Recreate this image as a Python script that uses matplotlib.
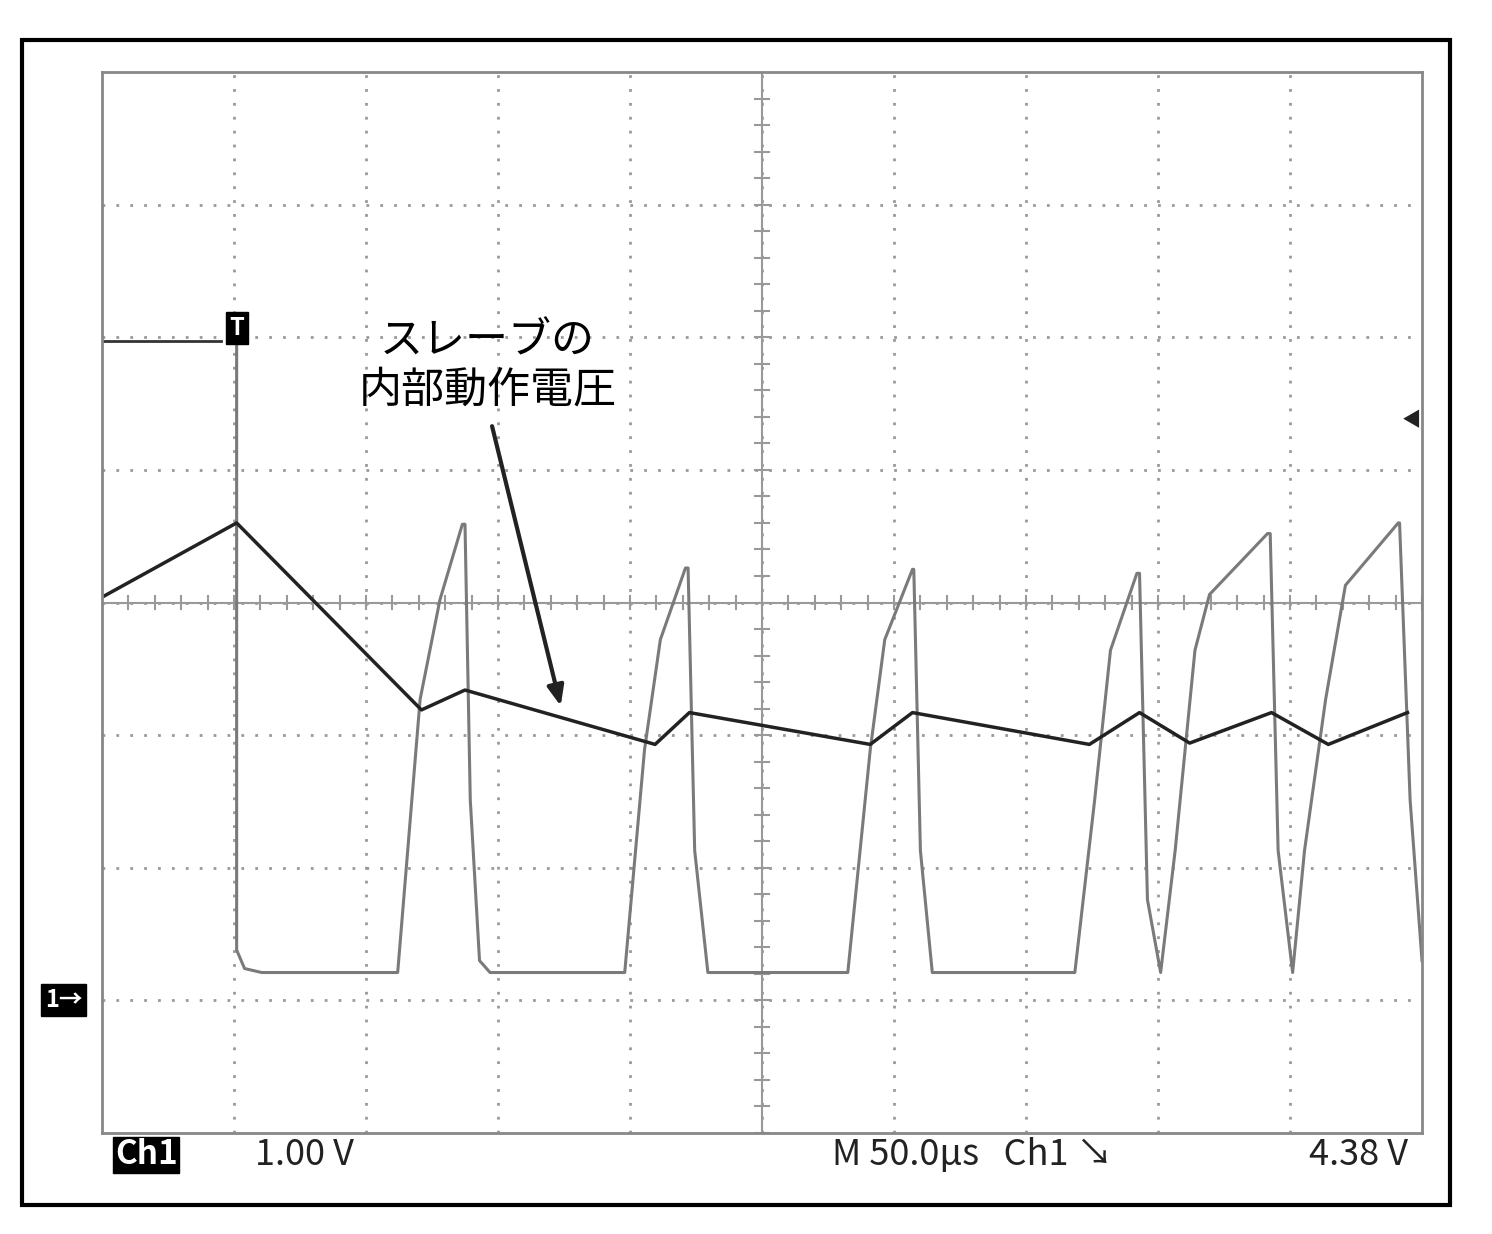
import matplotlib.pyplot as plt
from matplotlib.patches import Rectangle
import numpy as np

plt.rcParams['font.family'] = ['Noto Sans CJK JP', 'DejaVu Sans']

# x, y in divisions (10 x 8 grid)
sq_x = [1.02, 1.02, 1.08, 1.21, 2.24, 2.41, 2.56, 2.73, 2.75, 2.79, 2.86, 2.94, 3.96,
        4.11, 4.23, 4.42, 4.44, 4.49, 4.59, 5.65, 5.82, 5.93, 6.14, 6.15, 6.20, 6.29,
        7.37, 7.52, 7.64, 7.84, 7.86, 7.92, 8.02, 8.13, 8.28, 8.39, 8.83, 8.85, 8.91,
        9.02, 9.11, 9.27, 9.42, 9.82, 9.83, 9.91, 10.0]
sq_y = [5.97, 1.38, 1.24, 1.21, 1.21, 3.27, 4.02, 4.59, 4.59, 2.51, 1.30, 1.21, 1.21,
        2.89, 3.72, 4.26, 4.26, 2.13, 1.21, 1.21, 2.89, 3.72, 4.25, 4.25, 2.13, 1.21,
        1.21, 2.51, 3.64, 4.22, 4.22, 1.76, 1.21, 2.13, 3.64, 4.06, 4.52, 4.52, 2.13,
        1.21, 2.13, 3.27, 4.13, 4.60, 4.60, 2.51, 1.30]

vin_x = [0, 1.02, 2.42, 2.75, 4.19, 4.45, 5.82, 6.14, 7.48, 7.86, 8.24, 8.86, 9.29, 9.89]
vin_y = [4.04, 4.60, 3.19, 3.34, 2.93, 3.17, 2.93, 3.17, 2.93, 3.17, 2.94, 3.17, 2.93, 3.17]

label = "スレーブの\n内部動作電圧"

fig = plt.figure(figsize=(14.92, 12.34), dpi=100)
fig.patches.append(Rectangle((22/1492, 1-1205/1234), 1428/1492, 1165/1234,
                             transform=fig.transFigure, fill=False, lw=3, ec='black'))
ax = fig.add_axes([102/1492, 101/1234, 1320/1492, 1061/1234])
ax.set_xlim(0, 10)
ax.set_ylim(0, 8)
ax.set_xticks([])
ax.set_yticks([])
for s in ax.spines.values():
    s.set_color('#888')
    s.set_linewidth(2)

for i in range(1, 10):
    ax.axvline(i, color='#999', lw=2, ls=(0, (1, 4)))
for j in range(1, 8):
    ax.axhline(j, color='#999', lw=2, ls=(0, (1, 4)))
ax.axvline(5, color='#999', lw=1.5)
ax.axhline(4, color='#999', lw=1.5)
for t in np.arange(0, 10.01, 0.2):
    ax.plot([t, t], [3.95, 4.05], color='#999', lw=1.5)
for t in np.arange(0, 8.01, 0.2):
    ax.plot([4.95, 5.05], [t, t], color='#999', lw=1.5)

ax.plot(sq_x, sq_y, color='#7a7a7a', lw=2.2)
ax.plot(vin_x, vin_y, color='#222', lw=2.5)
ax.plot([0, 0.9], [5.97, 5.97], color='#333', lw=2)
ax.text(1.02, 6.07, 'T', ha='center', va='center', color='white', fontsize=17,
        fontweight='bold', bbox=dict(boxstyle='square,pad=0.15', fc='black', ec='black'))

ax.text(2.92, 5.78, label, ha='center', va='center', fontsize=31, linespacing=1.15)
ax.annotate('', xy=(3.48, 3.2), xytext=(2.95, 5.35),
            arrowprops=dict(arrowstyle='-|>,head_length=1.2,head_width=0.5', color='#222', lw=3))
ax.text(9.92, 5.37, '◀', ha='center', va='center', fontsize=14, color='#222')

fig.text(45/1492, 1-1000/1234, '1→', ha='left', va='center', color='white', fontsize=17,
         fontweight='bold', bbox=dict(boxstyle='square,pad=0.15', fc='black', ec='black'))
y0 = 1 - 1155/1234
fig.text(115/1492, y0, 'Ch1', ha='left', va='center', color='white', fontsize=24,
         fontweight='bold', bbox=dict(boxstyle='square,pad=0.05', fc='black', ec='black'))
fig.text(255/1492, y0, '1.00 V', ha='left', va='center', fontsize=26, color='#222')
fig.text(832/1492, y0, 'M 50.0µs   Ch1 ↘', ha='left', va='center', fontsize=26, color='#222')
fig.text(1408/1492, y0, '4.38 V', ha='right', va='center', fontsize=26, color='#222')

fig.savefig('out.png', dpi=100)
